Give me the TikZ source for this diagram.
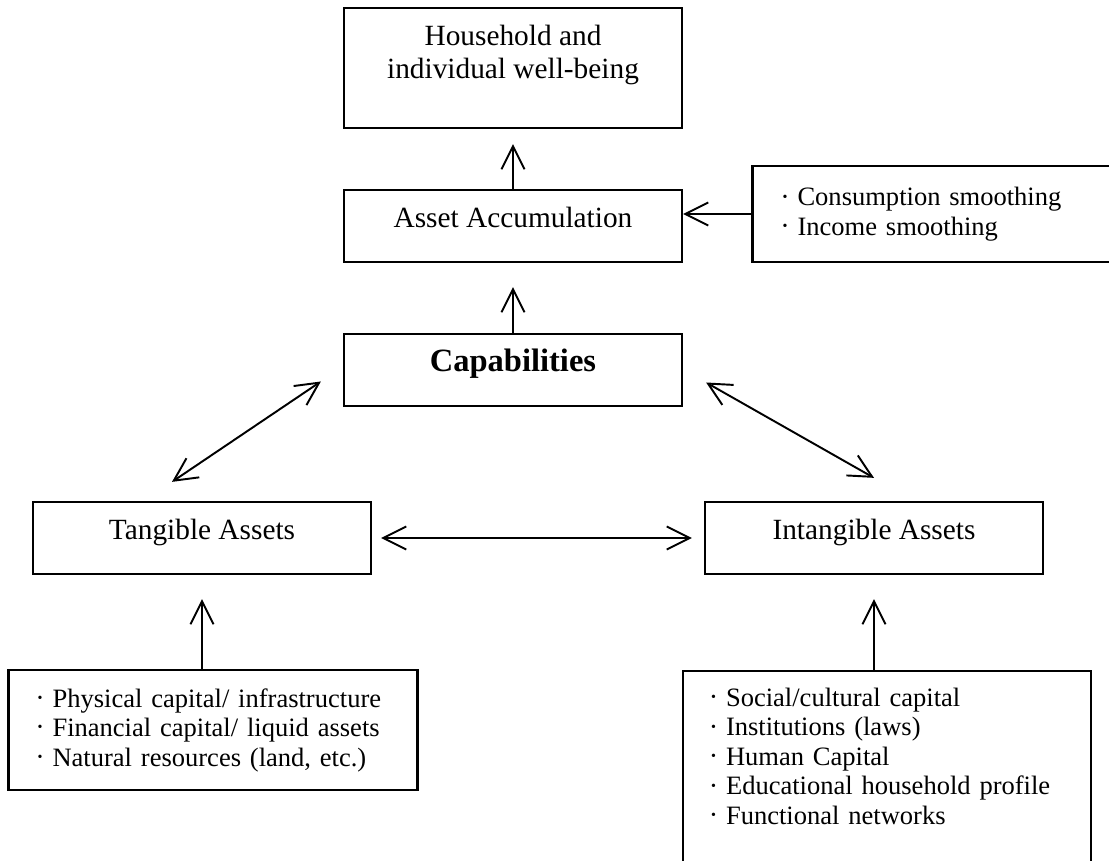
\documentclass[tikz,border=0pt]{standalone}
\usepackage{fontspec}
\setmainfont{Liberation Serif}
\usetikzlibrary{arrows.meta}
\newcommand{\bul}{\makebox[0.3cm][l]{\raisebox{2.6pt}{\fontsize{8}{8}\selectfont\textbullet}}}

\begin{document}
\begin{tikzpicture}[x=0.02cm, y=-0.02cm,
    frame/.style={draw, line width=1.3pt, inner sep=0pt, minimum width=6.76cm, font=\fontsize{16.7}{18.8}\selectfont},
    box/.style={frame, minimum height=1.44cm, text height=0.45cm, text depth=0.38cm},
    list/.style={draw, line width=1.3pt, inner ysep=0pt, align=left, font=\fontsize{15.1}{16.8}\selectfont},
    arr/.style={line width=1.1pt, -{Straight Barb[length=0.46cm, width=0.46cm]}},
    dbl/.style={line width=1.1pt, {Straight Barb[length=0.46cm, width=0.46cm]}-{Straight Barb[length=0.46cm, width=0.46cm]}}]
    \useasboundingbox (0,0) rectangle (1109,861);
    \clip (0,0) rectangle (1109,861);
    %% boxes
    \node[frame, align=center, minimum height=2.4cm] (wellbeing) at (513,68) {Household and\\individual well-being\\\mbox{}};
    \node[box] (accum) at (513,226) {Asset Accumulation};
    \node[box, font=\fontsize{18.5}{20}\selectfont\bfseries] (capab) at (513,370) {Capabilities};
    \node[box] (tangible) at (202,538) {Tangible Assets};
    \node[box] (intangible) at (874,538) {Intangible Assets};
    % the right box and the last box run past the edge
    \node[list, text width=6.14cm, inner xsep=0.6cm, minimum height=1.92cm] (smooth) at (936,214)
        {\bul Consumption smoothing\\\bul Income smoothing};
    \node[list, text width=7.02cm, inner xsep=0.58cm, minimum height=2.4cm] (tanglist) at (213,730)
        {\bul Physical capital/ infrastructure\\\bul Financial capital/ liquid assets\\\bul Natural resources (land, etc.)};
    \node[list, text width=7.04cm, inner xsep=0.56cm, minimum height=4cm] (intanglist) at (887,771)
        {\bul Social/cultural capital\\\bul Institutions (laws)\\\bul Human Capital\\\bul Educational household profile\\\bul Functional networks\\\mbox{}};
    %% arrows
    \draw[arr, shorten >=0.3cm] (accum) -- (wellbeing);
    \draw[arr, shorten >=0.48cm] (capab) -- (accum);
    \draw[arr] (smooth.west) -- (smooth.west -| accum.east);
    \draw[dbl] ([xshift=-0.6cm, yshift=0.38cm]tangible.north) -- ([xshift=-0.44cm, yshift=-0.23cm]capab.west);
    \draw[dbl] ([xshift=0.46cm, yshift=-0.25cm]capab.east) -- ([yshift=0.46cm]intangible.north);
    \draw[dbl, shorten <=0.18cm, shorten >=0.24cm] (tangible) -- (intangible);
    % lists feed the assets
    \draw[arr, shorten >=0.48cm] (tangible |- tanglist.north) -- (tangible.south);
    \draw[arr, shorten >=0.48cm] (intangible |- intanglist.north) -- (intangible.south);
\end{tikzpicture}
\end{document}
